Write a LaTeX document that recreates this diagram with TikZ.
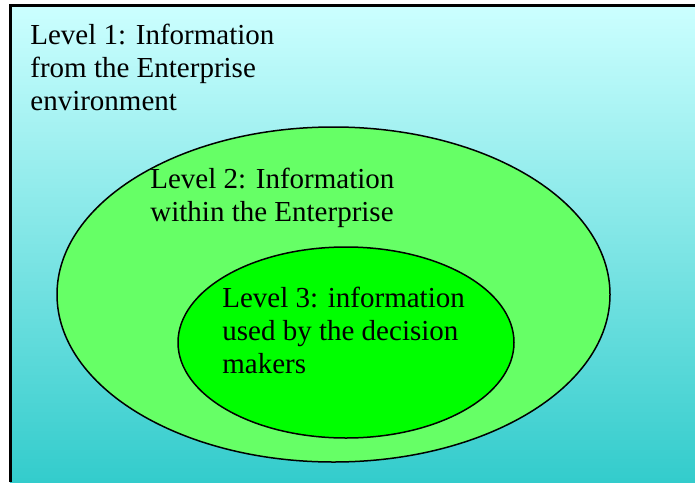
\documentclass[tikz,border=0pt]{standalone}
\usepackage{fontspec}
\setmainfont{Liberation Serif}
\usetikzlibrary{shapes.geometric,positioning}

\definecolor{envtop}{RGB}{204,255,255}
\definecolor{envmid}{RGB}{155,235,236}
\definecolor{envbot}{RGB}{51,204,204}
\definecolor{entfill}{RGB}{102,255,102}
\definecolor{decfill}{RGB}{0,255,0}

\tikzset{
  level/.style={ellipse, draw=black, line width=0.75pt, inner sep=0pt},
  lbl/.style={anchor=north west, inner sep=0pt, align=left,
    font=\fontsize{14.5}{16.5}\selectfont}
}

\begin{document}
\begin{tikzpicture}[x=0.5pt, y=-0.5pt]
      \useasboundingbox (0,0) rectangle (695,482);
        % environment frame
        \shade [top color=envtop, middle color=envmid, bottom color=envbot]
          (10,5) rectangle (695,482);
        \draw [line width=1.2pt] (10.5,482) -- (10.5,5.5) -- (695,5.5);
        \node [lbl] (t1) at (30,24) {Level 1: Information\\from the Enterprise\\environment};
        % the two nested levels
        \node [level, fill=entfill, minimum width=276.5pt, minimum height=167.5pt]
          (e2) at (333.5,294.5) {};
        \node [level, fill=decfill, minimum width=168pt, minimum height=95.5pt]
          (e3) at (346,342.5) {};
        \node [lbl] (t2) at (150,168) {Level 2: Information\\within the Enterprise};
        \node [lbl] (t3) at (222,287) {Level 3: information\\used by the decision\\makers};
\end{tikzpicture}
\end{document}
